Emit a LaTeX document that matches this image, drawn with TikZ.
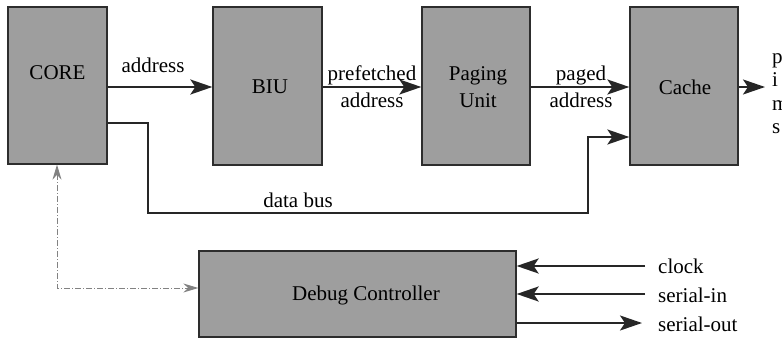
\documentclass[tikz,border=0pt]{standalone}
\usepackage{fontspec}
\setmainfont{Liberation Serif}
\usetikzlibrary{arrows.meta}
\definecolor{boxgray}{RGB}{158,158,158}
\definecolor{boxedge}{RGB}{45,45,45}
\definecolor{dbgline}{RGB}{130,130,130}
\tikzset{
  blockbox/.style={draw=boxedge, line width=1.3pt, fill=boxgray, inner sep=0pt, text=black!80},
  sig/.style={line width=2.2pt, draw=black!85, -{Stealth[length=22pt,width=15pt,inset=5pt]}},
  dbg/.style={line width=1pt, draw=dbgline, dash pattern=on 6pt off 2pt on 1pt off 2pt, {Stealth[length=15pt,width=9pt]}-{Stealth[length=15pt,width=9pt]}},
  lbl/.style={inner sep=0pt, font=\fontsize{21}{23}\selectfont}
}
\begin{document}
\begin{tikzpicture}[x=1pt,y=-1pt, font=\fontsize{21}{23}\selectfont]
\clip (0,0) rectangle (782,340);
\fill[white] (0,0) rectangle (782,340);
% blocks
\node[blockbox, minimum width=99pt, minimum height=157pt] (core) at (57.5,85.5) {};
\node[lbl] at (57.5,73) {CORE};
\node[blockbox, minimum width=109pt, minimum height=158pt] (biu) at (267.5,86) {};
\node[lbl] at (270,87) {BIU};
\node[blockbox, minimum width=108pt, minimum height=158pt] (pag) at (476,86) {};
\node[lbl, align=center, font=\fontsize{21}{27}\selectfont] at (478,87) {Paging\\Unit};
\node[blockbox, minimum width=108pt, minimum height=158pt] (cache) at (684,86) {};
\node[lbl] at (685,87) {Cache};
\node[blockbox, minimum width=317pt, minimum height=86pt] (dbgc) at (357.5,294) {};
\node[lbl] at (366,295) {Debug Controller};
% address
\draw[sig] (core.east |- 0,87) -- (biu.west |- 0,87);
\node[lbl] (la) at (153,65) {address};
% prefetched address
\draw[sig] (biu.east |- 0,87) -- (pag.west |- 0,87);
\node[lbl, align=center, font=\fontsize{21}{27}\selectfont] (lp) at (372,87) {prefetched\\address};
% paged address
\draw[sig] (pag.east |- 0,87) -- (cache.west |- 0,87);
\node[lbl, align=center, font=\fontsize{21}{27}\selectfont] (lpg) at (581,87) {paged\\address};
% cache output
\coordinate (cout) at (765,87);
\draw[sig] (cache.east |- 0,87) -- (cout);
\node[lbl, anchor=north west, align=left, font=\fontsize{21}{23.5}\selectfont] (outtxt) at (772,53) {p\\i\\m\\s};
% data bus
\draw[sig] (core.east |- 0,123) -- (148,123) -- (148,213) -- (588,213) -- (588,137) -- (cache.west |- 0,137);
\node[lbl] (ldb) at (298,200) {data bus};
% debug link
\coordinate (dbgcorner) at (57,288);
\draw[dbg] (core.south -| 57,0) -- (dbgcorner) -- (dbgc.west |- 0,288);
% debug signals
\coordinate (clk) at (645,266);
\coordinate (sin) at (645,294);
\coordinate (sout) at (642,323);
\draw[sig] (clk) -- (dbgc.east |- clk);
\draw[sig] (sin) -- (dbgc.east |- sin);
\draw[sig] (dbgc.east |- sout) -- (sout);
\node[lbl, anchor=west] at (658,266) {clock};
\node[lbl, anchor=west] at (658,295) {serial-in};
\node[lbl, anchor=west] at (658,324) {serial-out};
\end{tikzpicture}
\end{document}
